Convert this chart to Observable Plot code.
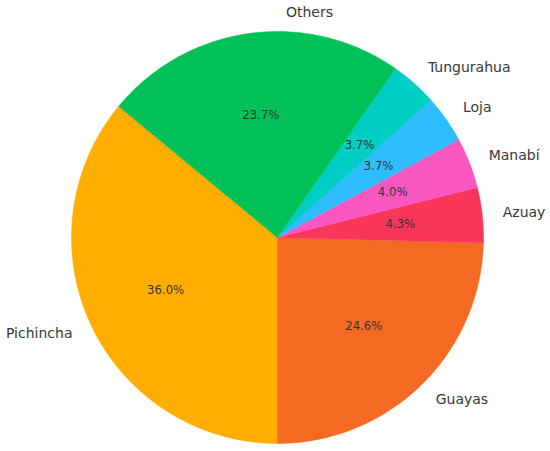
<!DOCTYPE html>
<html>
<head>
<meta charset="utf-8">
<script src="https://cdn.jsdelivr.net/npm/d3@7"></script>
<script src="https://cdn.jsdelivr.net/npm/@observablehq/plot@0.6"></script>
<style>
  html, body { margin: 0; padding: 0; background: #fff; }
  #chart svg { display: block; }
</style>
</head>
<body>
<div id="chart"></div>
<script>
const categories = ["Pichincha", "Guayas", "Azuay", "Manabí", "Loja", "Tungurahua", "Others"];
const shares = [36.0, 24.6, 4.3, 4.0, 3.7, 3.7, 23.7];
const colors = ["#FFAE00", "#F46A22", "#F8355A", "#F957C0", "#2EBDFE", "#00CEC5", "#00C157"];
const startAngle = 140.4; // degrees, counter-clockwise from east

const W = 550, H = 451, cx = 277, cy = 237, R = 206;

// slice geometry (unit radius)
const total = d3.sum(shares);
let acc = startAngle;
const slices = categories.map((c, i) => {
  const a0 = acc, a1 = acc + shares[i] / total * 360;
  acc = a1;
  return {cat: c, share: shares[i], color: colors[i], a0, a1, mid: (a0 + a1) / 2};
});
const rad = d => d * Math.PI / 180;
const polys = [];
for (const s of slices) {
  polys.push({cat: s.cat, x: 0, y: 0});
  const n = Math.max(2, Math.ceil((s.a1 - s.a0) / 0.5));
  for (let k = 0; k <= n; k++) {
    const a = rad(s.a0 + (s.a1 - s.a0) * k / n);
    polys.push({cat: s.cat, x: Math.cos(a), y: Math.sin(a)});
  }
}
const labels = slices.map(s => ({
  cat: s.cat,
  x: 1.1 * Math.cos(rad(s.mid)),
  y: 1.1 * Math.sin(rad(s.mid)),
  px: 0.6 * Math.cos(rad(s.mid)),
  py: 0.6 * Math.sin(rad(s.mid)),
  pct: s.share.toFixed(1) + "%"
}));

const chart = Plot.plot({
  width: W, height: H,
  margin: 0,
  x: {domain: [-cx / R, (W - cx) / R], axis: null},
  y: {domain: [-(H - cy) / R, cy / R], axis: null},
  color: {domain: categories, range: colors},
  style: {fontFamily: "DejaVu Sans, sans-serif", background: "#fff"},
  marks: [
    Plot.line(polys, {x: "x", y: "y", z: "cat", fill: "cat", stroke: "cat", strokeWidth: 0.5, curve: "linear-closed"}),
    Plot.text(labels.filter(d => d.x >= 0), {x: "x", y: "y", text: "cat", textAnchor: "start", fontSize: 14, fill: "#383838"}),
    Plot.text(labels.filter(d => d.x < 0 && d.cat !== "Others"), {x: "x", y: "y", text: "cat", textAnchor: "end", fontSize: 14, fill: "#383838"}),
    Plot.text(labels.filter(d => d.cat === "Others"), {x: "x", y: "y", text: "cat", textAnchor: "end", dx: 86, fontSize: 14, fill: "#383838"}),
    Plot.text(labels, {x: "px", y: "py", text: "pct", textAnchor: "middle", fontSize: 11.7, fill: "#333"})
  ]
});
document.getElementById("chart").appendChild(chart);
</script>
</body>
</html>
